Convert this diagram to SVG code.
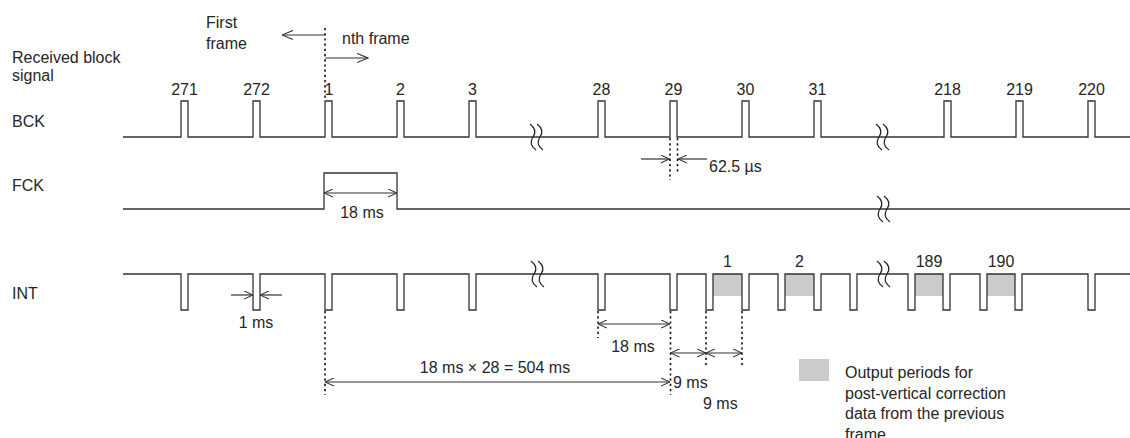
<svg xmlns="http://www.w3.org/2000/svg" width="1130" height="438" viewBox="0 0 1130 438">
<style>
text{font-family:"Liberation Sans",Arial,sans-serif;font-size:16px;fill:#262626}
.c{text-anchor:middle}
.w{fill:none;stroke:#333;stroke-width:1.3}
.d{fill:none;stroke:#111;stroke-width:1.6;stroke-dasharray:2.2,3}
.a{fill:none;stroke:#333;stroke-width:1.2}
.dbl{marker-start:url(#ah);marker-end:url(#ah)}
.one{marker-end:url(#ah)}
.big{marker-end:url(#ahb)}
.sh{fill:#cbcbcb}
.bk{fill:none;stroke:#222;stroke-width:1.2}
</style>
<defs>
<marker id="ah" viewBox="0 0 10 10" refX="10" refY="5" markerWidth="9" markerHeight="9" markerUnits="userSpaceOnUse" orient="auto-start-reverse">
<path d="M0,0.5 L10,5 L0,9.5" fill="none" stroke="#333" stroke-width="1.2"/>
</marker>
<marker id="ahb" viewBox="0 0 12 12" refX="12" refY="6" markerWidth="12" markerHeight="11" markerUnits="userSpaceOnUse" orient="auto">
<path d="M0,1 L12,6 L0,11" fill="none" stroke="#333" stroke-width="1.2"/>
</marker>
<g id="brk">
<path class="bk" d="M-6,-13 Q2,-7 -3,0 T0,13"/>
<path class="bk" d="M1,-13 Q9,-7 4,0 T7,13"/>
</g>
</defs>

<g id="signal-names">
<text x="12" y="63">Received block</text>
<text x="12" y="81">signal</text>
<text x="12" y="127">BCK</text>
<text x="12" y="191">FCK</text>
<text x="12" y="299">INT</text>
</g>

<g id="frame-boundary">
<text x="206" y="28">First</text>
<text x="206" y="49">frame</text>
<text x="342" y="44">nth frame</text>
</g>

<g id="bck">
<path class="w" d="M123,137 H181 V101 H188 V137 H253 V101 H260 V137 H325 V101 H332 V137 H397 V101 H404 V137 H469 V101 H476 V137 H598 V101 H605 V137 H670 V101 H677 V137 H742 V101 H749 V137 H814 V101 H821 V137 H944 V101 H951 V137 H1016 V101 H1023 V137 H1088 V101 H1095 V137 H1130"/>
<use href="#brk" x="536" y="137"/>
<use href="#brk" x="882" y="137"/>
<text class="c" x="184.5" y="95">271</text>
<text class="c" x="256.5" y="95">272</text>
<text class="c" x="329" y="95">1</text>
<text class="c" x="400.5" y="95">2</text>
<text class="c" x="472.5" y="95">3</text>
<text class="c" x="601.5" y="95">28</text>
<text class="c" x="673.5" y="95">29</text>
<text class="c" x="745.5" y="95">30</text>
<text class="c" x="817.5" y="95">31</text>
<text class="c" x="947.5" y="95">218</text>
<text class="c" x="1019.5" y="95">219</text>
<text class="c" x="1091.5" y="95">220</text>
</g>

<g id="fck">
<path class="w" d="M123,209 H324 V173 H397 V209 H1130"/>
<use href="#brk" x="883" y="209"/>
<text class="c" x="362" y="218">18 ms</text>
</g>

<g id="int">
<rect class="sh" x="713" y="274" width="29" height="22"/>
<rect class="sh" x="785" y="274" width="29" height="22"/>
<rect class="sh" x="915" y="274" width="28" height="22"/>
<rect class="sh" x="987" y="274" width="28" height="22"/>
<path class="w" d="M123,274 H181 V310 H188 V274 H253 V310 H260 V274 H325 V310 H332 V274 H397 V310 H404 V274 H469 V310 H476 V274 H598 V310 H605 V274 H670 V310 H677 V274 H706 V310 H713 V274 H742 V310 H749 V274 H778 V310 H785 V274 H814 V310 H821 V274 H850 V310 H857 V274 H908 V310 H915 V274 H943 V310 H950 V274 H980 V310 H987 V274 H1015 V310 H1022 V274 H1088 V310 H1095 V274 H1130"/>
<use href="#brk" x="537" y="274"/>
<use href="#brk" x="883" y="274"/>
<text class="c" x="727.5" y="267">1</text>
<text class="c" x="799.5" y="267">2</text>
<text class="c" x="929" y="267">189</text>
<text class="c" x="1001" y="267">190</text>
</g>

<g id="connectors">
<path class="d" d="M325,28 V100"/>
<path class="d" d="M325,311 V395"/>
<path class="d" d="M670,138 V180"/>
<path class="d" d="M677.5,138 V172"/>
<path class="d" d="M598,311 V338"/>
<path class="d" d="M670.5,311 V395"/>
<path class="d" d="M706,311 V367"/>
<path class="d" d="M742,311 V367"/>
<path class="a big" d="M325,35 H282"/>
<path class="a big" d="M325,58 H368"/>
<path class="a dbl" d="M324,193 H397"/>
<path class="a one" d="M231,295 H253"/>
<path class="a one" d="M282,295 H260"/>
<path class="a one" d="M641,159 H669.5"/>
<path class="a one" d="M707,159 H678"/>
<path class="a dbl" d="M598,324 H670"/>
<path class="a dbl" d="M670.5,353 H706"/>
<path class="a dbl" d="M706,353 H742"/>
<path class="a dbl" d="M325,382 H670"/>
</g>

<g id="dimension-labels">
<text x="709" y="172">62.5 µs</text>
<text class="c" x="256" y="328">1 ms</text>
<text class="c" x="633" y="352">18 ms</text>
<text class="c" x="495" y="373">18 ms × 28 = 504 ms</text>
<text x="673" y="388">9 ms</text>
<text x="703" y="409">9 ms</text>
</g>

<g id="legend">
<rect class="sh" x="799" y="359" width="30" height="22"/>
<text x="845" y="378">Output periods for</text>
<text x="845" y="398.5">post-vertical correction</text>
<text x="845" y="419">data from the previous</text>
<text x="845" y="439.5">frame</text>
</g>
</svg>
